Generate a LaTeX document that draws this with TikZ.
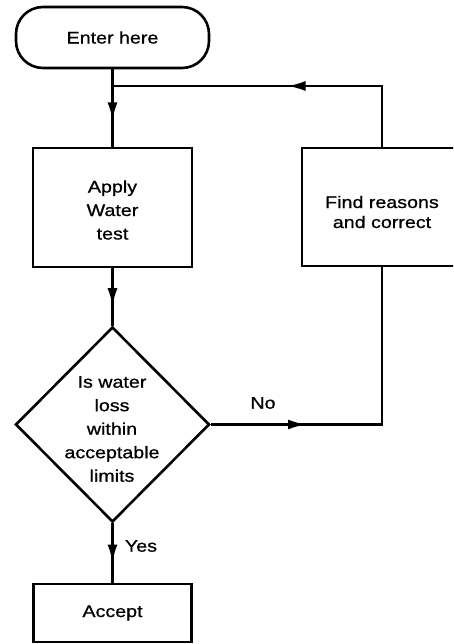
\documentclass[tikz,border=0pt]{standalone}
\usepackage{fontspec}
\setmainfont{Liberation Sans}[FakeStretch=1.17, FakeBold=0.8]
\usetikzlibrary{shapes.geometric, arrows.meta, decorations.markings}
\tikzset{
    startstop/.style={rectangle, draw=black, line width=2.6pt, rounded corners=27pt, inner sep=0pt},
    process/.style={rectangle, draw=black, line width=2.6pt, inner sep=0pt},
    decision/.style={diamond, draw=black, line width=2.6pt, inner sep=0pt},
    boxtext/.style={align=center, inner sep=0pt, font=\fontsize{16.8}{23.5}\selectfont},
    line/.style={draw=black, line width=2.2pt},
    midarrow/.style={
        postaction={
            decorate,decoration={
                markings,mark=at position #1 with {\arrow{Latex[length=18pt,width=10pt]}}
            }
        }
    },
}

\begin{document}
\begin{tikzpicture}[x=1pt, y=-1pt]
    \clip (0,0) rectangle (453,644);

    % boxes
    \node[startstop, minimum width=193pt, minimum height=61pt] (enter) at (112.5,37.5) {};
    \node[boxtext] (entertext) at (enter) {Enter here};

    \node[process, minimum width=159pt, minimum height=119pt] (apply) at (112.5,207.5) {};
    \node[boxtext] (applytext) at (112.5,210) {Apply\\Water\\test};

    \node[process, minimum width=160pt, minimum height=118pt] (find) at (382,207) {};
    \node[boxtext, font=\fontsize{16.8}{20}\selectfont] (findtext) at (382,212) {Find reasons\\and correct};

    \node[decision, minimum width=194pt, minimum height=195pt] (decide) at (112.5,424.5) {};
    \node[boxtext] (decidetext) at (112,429) {Is water\\loss\\within\\acceptable\\limits};

    \node[process, minimum width=158pt, minimum height=58pt] (accept) at (112.5,613) {};
    \node[boxtext] (accepttext) at (accept) {Accept};

    % joining point of the loop
    \coordinate (join) at (112.5,86);

    % connectors
    \draw[line, midarrow=0.66] (enter.south) -- (apply.north);
    \draw[line, midarrow=0.47] (find.north) |- (join);
    \draw[line, midarrow=0.66] (apply.south) -- (decide.north);
    \draw[line, midarrow=0.29] (decide.east) -| (find.south);
    \draw[line, midarrow=0.66] (decide.south) -- (accept.north);

    % labels
    \node[boxtext] (nolabel) at (263,403) {No};
    \node[boxtext] (yeslabel) at (141,546) {Yes};
\end{tikzpicture}
\end{document}
